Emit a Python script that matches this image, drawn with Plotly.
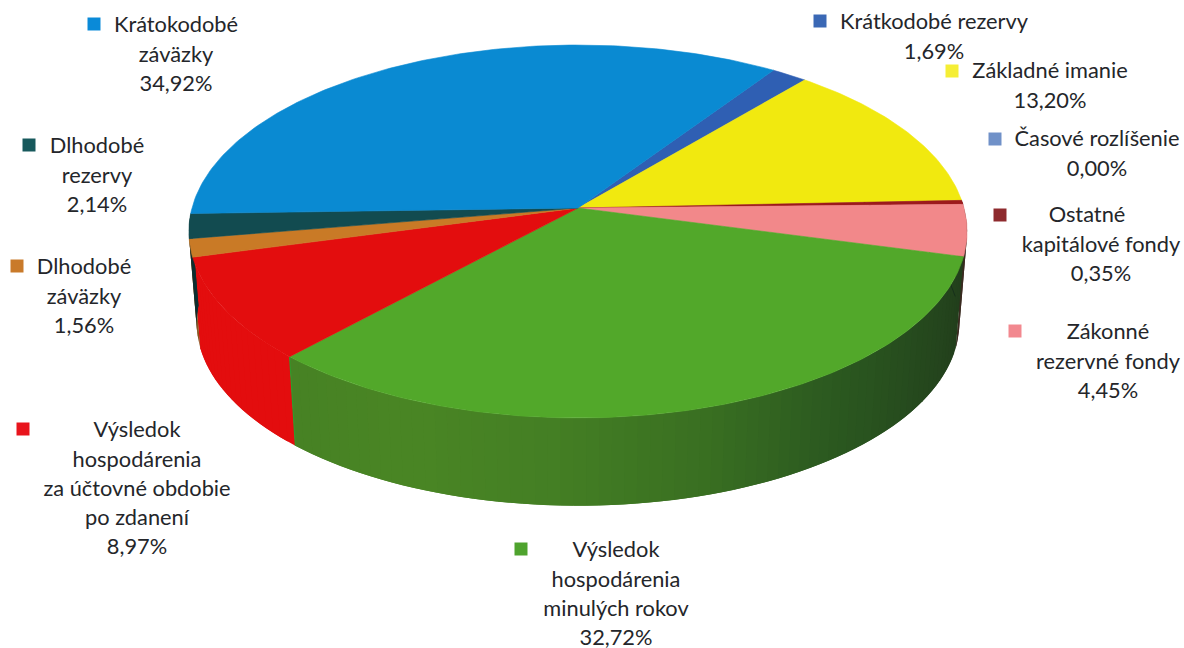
import numpy as np
import plotly.graph_objects as go

# ---- data (clockwise, starting at Krátkodobé rezervy) ----
categories = ["Krátkodobé rezervy", "Základné imanie", "Časové rozlíšenie", "Ostatné|kapitálové fondy",
              "Zákonné|rezervné fondy", "Výsledok|hospodárenia|minulých rokov",
              "Výsledok|hospodárenia|za účtovné obdobie|po zdanení", "Dlhodobé|záväzky",
              "Dlhodobé|rezervy", "Krátokodobé|záväzky"]
values = [1.69, 13.20, 0.00, 0.35, 4.45, 32.72, 8.97, 1.56, 2.14, 34.92]

# ---- styles ----
colors = ["#2f5fb3", "#f1e90f", "#7091c8", "#9c1a1c", "#f2888a", "#52a82a", "#e30d0e", "#c97a26", "#124b50", "#0a8ad2"]
marker_colors = ["#3a68b5", "#f5ee35", "#7091c8", "#8e2a2e", "#f2888f", "#4fa32e", "#e8141c", "#c97a2a", "#17595c", "#0a8ad8"]
wall_colors = {3: ["#4a0d0e"], 4: ["#3a2a20"],
               5: ["#223f1c", "#264a1e", "#2c5a20", "#3a7022", "#447f24", "#4a8624", "#478224"],
               6: ["#e30d0e"], 7: ["#8a5520"], 8: ["#0c2e30"]}

# ---- projection of the tilted disc ----
PHI0, CX, CY, A, B, K = 34.0, 578.0, 208.0, 386.0, 183.5, 0.126
WALL_DY, WALL_S = 92.0, 0.98


def top(phi):
    u, v = np.sin(np.radians(phi)), -np.cos(np.radians(phi))
    d = 1 - K * v
    return CX + A * u / d, CY + B * v / d


def bottom(phi):
    x, y = top(phi)
    return CX + (x - CX) * WALL_S, CY + WALL_DY + (y - CY) * WALL_S


def hex2rgb(h):
    return np.array([int(h[i:i + 2], 16) for i in (1, 3, 5)], float)


def ramp(stops, t):
    if len(stops) == 1:
        return stops[0]
    p = t * (len(stops) - 1)
    i = min(int(p), len(stops) - 2)
    c = hex2rgb(stops[i]) * (1 - (p - i)) + hex2rgb(stops[i + 1]) * (p - i)
    return "rgb(%d,%d,%d)" % tuple(c)


cum = np.concatenate([[0], np.cumsum(values)]) / sum(values) * 360 + PHI0
fig = go.Figure()


def poly(x, y, color, lw=0.6):
    fig.add_trace(go.Scatter(x=list(x), y=list(y), mode="lines", fill="toself", fillcolor=color,
                             line=dict(color=color, width=lw), hoverinfo="skip", showlegend=False))


# side wall: visible from the right silhouette to the left silhouette
for i, stops in wall_colors.items():
    a0, a1 = max(cum[i], 80.0), min(cum[i + 1], 272.0)
    if a1 <= a0:
        continue
    n = 70 if i == 5 else (20 if i == 6 else 3)
    edges = np.linspace(a0, a1, n + 1)
    for k in range(n):
        # each strip overlaps its neighbour so no seams show
        hi = edges[min(k + 2, n)]
        ph = np.linspace(edges[k], hi, 5)
        xt, yt = top(ph)
        xb, yb = bottom(ph)
        poly(np.r_[xt, xb[::-1]], np.r_[yt, yb[::-1]], ramp(stops, k / max(n - 1, 1)), lw=0)

# thin dark rim along the foot of the dark green wall
ph = np.linspace(cum[4], cum[5] - 55, 60)
xb, yb = bottom(ph)
fig.add_trace(go.Scatter(x=xb, y=yb, mode="lines", line=dict(color="#16301a", width=1),
                         hoverinfo="skip", showlegend=False))

# bright cut edge of the green slice
xt, yt = top(np.array([cum[6]]))
xb, yb = bottom(np.array([cum[6]]))
fig.add_trace(go.Scatter(x=[xt[0], xb[0]], y=[yt[0], yb[0]], mode="lines", line=dict(color="#2f9a2a", width=1.2),
                         hoverinfo="skip", showlegend=False))

# top face
for i, c in enumerate(colors):
    if values[i] <= 0:
        continue
    ph = np.linspace(cum[i], cum[i + 1], max(int(values[i] * 4), 4))
    x, y = top(ph)
    poly(np.r_[CX, x, CX], np.r_[CY, y, CY], c)

# ---- labels ----
markers = [(820, 21), (952, 71), (995, 139), (1000, 215), (1015, 331), (521, 549), (23, 429), (17, 266), (29, 145), (94, 24)]
label_cx = [934, 1050, 1097, 1101, 1108, 616, 137, 84, 97, 176]
label_first_dx = [0, 0, 0, -14, 0, 0, 0, 0, 0, 0]
label_y0 = [24, 73, 141, 217, 334, 552, 432, 269, 148, 27]
LINE = 29.2
tx, ty, tt = [], [], []
for i, name in enumerate(categories):
    lines = name.split("|") + [f"{values[i]:.2f}".replace(".", ",") + "%"]
    for j, line in enumerate(lines):
        tx.append(label_cx[i] + (label_first_dx[i] if j == 0 else 0))
        ty.append(label_y0[i] + j * LINE)
        tt.append(line)
fig.add_trace(go.Scatter(x=tx, y=ty, text=tt, mode="text", textposition="middle center",
                         textfont=dict(family="Lato", size=21.8, color="#24262a"),
                         hoverinfo="skip", showlegend=False, cliponaxis=False))
fig.add_trace(go.Scatter(x=[m[0] for m in markers], y=[m[1] for m in markers], mode="markers",
                         marker=dict(symbol="square", size=13, color=marker_colors, line=dict(width=0)),
                         hoverinfo="skip", showlegend=False))

fig.update_layout(width=1184, height=648, margin=dict(l=0, r=0, t=0, b=0),
                  paper_bgcolor="white", plot_bgcolor="white", showlegend=False,
                  xaxis=dict(range=[0, 1184], visible=False, fixedrange=True),
                  yaxis=dict(range=[648, 0], visible=False, fixedrange=True))
fig.write_html("out.html", config=dict(displayModeBar=False),
               post_script="document.body.style.margin='0';document.documentElement.style.overflow='hidden';")
